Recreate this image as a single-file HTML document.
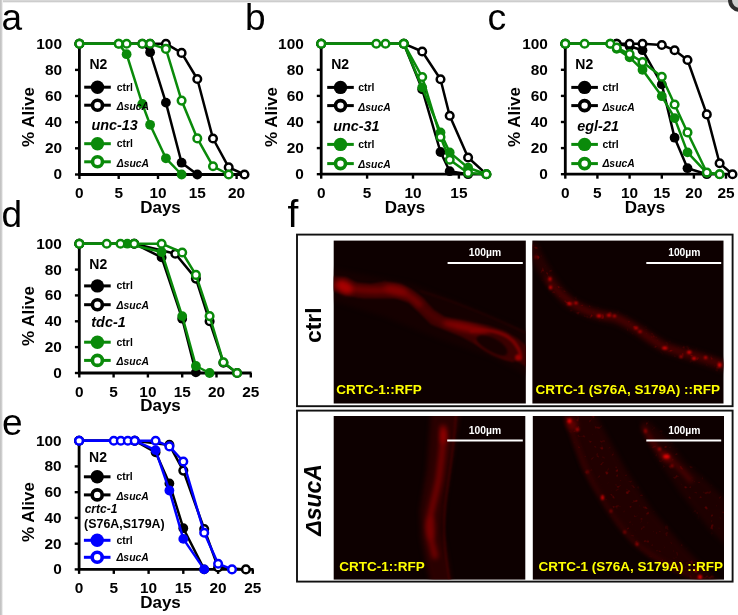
<!DOCTYPE html>
<html lang="en"><head><meta charset="utf-8"><title>Figure</title>
<style>
html,body{margin:0;padding:0;background:#fff;}
body{width:738px;height:615px;overflow:hidden;position:relative;}
svg{display:block;position:absolute;left:0;top:0;filter:blur(0.4px);}
svg text{font-family:'Liberation Sans', sans-serif;fill:#000;}
</style></head><body>
<svg width="738" height="615" viewBox="0 0 738 615">
<defs>
<linearGradient id="gt" x1="0" y1="0" x2="0" y2="1"><stop offset="0" stop-color="#dcdcdc"/><stop offset="0.6" stop-color="#cacaca"/><stop offset="1" stop-color="#fff"/></linearGradient>
<linearGradient id="gl" x1="0" y1="0" x2="1" y2="0"><stop offset="0" stop-color="#bdbdbd"/><stop offset="0.6" stop-color="#d2d2d2"/><stop offset="1" stop-color="#fff"/></linearGradient>
<filter id="b1" color-interpolation-filters="sRGB" filterUnits="userSpaceOnUse" x="280" y="220" width="470" height="380"><feGaussianBlur stdDeviation="1.2"/></filter>
<filter id="b2" color-interpolation-filters="sRGB" filterUnits="userSpaceOnUse" x="280" y="220" width="470" height="380"><feGaussianBlur stdDeviation="2.5"/></filter>
<filter id="b4" color-interpolation-filters="sRGB" filterUnits="userSpaceOnUse" x="280" y="220" width="470" height="380"><feGaussianBlur stdDeviation="4"/></filter>
<filter id="sp" color-interpolation-filters="sRGB" filterUnits="userSpaceOnUse" x="280" y="220" width="470" height="380">
<feGaussianBlur in="SourceGraphic" stdDeviation="2" result="sh"/>
<feTurbulence type="fractalNoise" baseFrequency="0.2" numOctaves="2" seed="11" result="n"/>
<feColorMatrix in="n" type="matrix" values="0 0 0 0 0.8  0 0 0 0 0  0 0 0 0 0  5 0 0 0 -3.25" result="nr"/>
<feGaussianBlur in="nr" stdDeviation="0.7" result="nb"/>
<feComposite in="nb" in2="sh" operator="in"/>
</filter>
<clipPath id="c1"><rect x="333.7" y="240.6" width="192.1" height="162.9"/></clipPath>
<clipPath id="c2"><rect x="532.4" y="240.6" width="191.1" height="162.9"/></clipPath>
<clipPath id="c3"><rect x="333.7" y="416" width="191.6" height="163.6"/></clipPath>
<clipPath id="c4"><rect x="532.8" y="416" width="191.2" height="163.6"/></clipPath>
</defs>
<rect x="0" y="0" width="738" height="615" fill="#fff"/>
<rect x="0" y="0" width="738" height="2.9" fill="url(#gt)"/>
<rect x="0" y="0" width="3" height="615" fill="url(#gl)"/>
<circle cx="740" cy="0" r="10" fill="#cfcfcf" stroke="#2e2e2e" stroke-width="4"/>

<text x="1.5" y="29.8" font-size="37">a</text>
<text x="245" y="30" font-size="37">b</text>
<text x="487.6" y="30.2" font-size="37.5">c</text>
<text x="1.5" y="227.3" font-size="37">d</text>
<text x="2" y="434.5" font-size="37">e</text>
<text x="287.6" y="226.8" font-size="39">f</text>
<path d="M79.4,43.7 V174.5 H246.0" fill="none" stroke="#000" stroke-width="2.8" stroke-linejoin="miter"/>
<line x1="75.0" y1="174.5" x2="79.4" y2="174.5" stroke="#000" stroke-width="2.4"/>
<text x="62.0" y="179.4" text-anchor="end" font-size="15.4" font-weight="bold">0</text>
<line x1="75.0" y1="148.3" x2="79.4" y2="148.3" stroke="#000" stroke-width="2.4"/>
<text x="62.0" y="153.2" text-anchor="end" font-size="15.4" font-weight="bold">20</text>
<line x1="75.0" y1="122.2" x2="79.4" y2="122.2" stroke="#000" stroke-width="2.4"/>
<text x="62.0" y="127.1" text-anchor="end" font-size="15.4" font-weight="bold">40</text>
<line x1="75.0" y1="96.0" x2="79.4" y2="96.0" stroke="#000" stroke-width="2.4"/>
<text x="62.0" y="100.9" text-anchor="end" font-size="15.4" font-weight="bold">60</text>
<line x1="75.0" y1="69.9" x2="79.4" y2="69.9" stroke="#000" stroke-width="2.4"/>
<text x="62.0" y="74.8" text-anchor="end" font-size="15.4" font-weight="bold">80</text>
<text x="62.0" y="48.6" text-anchor="end" font-size="15.4" font-weight="bold">100</text>
<line x1="79.4" y1="174.5" x2="79.4" y2="179.0" stroke="#000" stroke-width="2.4"/>
<text x="79.4" y="198.0" text-anchor="middle" font-size="15.4" font-weight="bold">0</text>
<line x1="118.7" y1="174.5" x2="118.7" y2="179.0" stroke="#000" stroke-width="2.4"/>
<text x="118.7" y="198.0" text-anchor="middle" font-size="15.4" font-weight="bold">5</text>
<line x1="158.0" y1="174.5" x2="158.0" y2="179.0" stroke="#000" stroke-width="2.4"/>
<text x="158.0" y="198.0" text-anchor="middle" font-size="15.4" font-weight="bold">10</text>
<line x1="197.3" y1="174.5" x2="197.3" y2="179.0" stroke="#000" stroke-width="2.4"/>
<text x="197.3" y="198.0" text-anchor="middle" font-size="15.4" font-weight="bold">15</text>
<line x1="236.6" y1="174.5" x2="236.6" y2="179.0" stroke="#000" stroke-width="2.4"/>
<text x="236.6" y="198.0" text-anchor="middle" font-size="15.4" font-weight="bold">20</text>
<text x="160.5" y="212.5" text-anchor="middle" font-size="17" font-weight="bold">Days</text>
<text transform="translate(33.5,117.0) rotate(-90)" text-anchor="middle" font-size="17" font-weight="bold">% Alive</text>
<path d="M79.4,43.7 L142.3,43.7 L150.1,52.2 L165.9,102.6 L181.6,162.7 L197.3,174.5" fill="none" stroke="#000" stroke-width="2.5" stroke-linejoin="round"/>
<circle cx="79.4" cy="43.7" r="4.9" fill="#000"/>
<circle cx="142.3" cy="43.7" r="4.9" fill="#000"/>
<circle cx="150.1" cy="52.2" r="4.9" fill="#000"/>
<circle cx="165.9" cy="102.6" r="4.9" fill="#000"/>
<circle cx="181.6" cy="162.7" r="4.9" fill="#000"/>
<circle cx="197.3" cy="174.5" r="4.9" fill="#000"/>
<path d="M79.4,43.7 L150.1,43.7 L165.9,43.7 L181.6,52.9 L197.3,79.0 L213.0,138.5 L228.7,167.3 L244.5,174.5" fill="none" stroke="#000" stroke-width="2.5" stroke-linejoin="round"/>
<circle cx="79.4" cy="43.7" r="3.8" fill="#fff" stroke="#000" stroke-width="2.5"/>
<circle cx="150.1" cy="43.7" r="3.8" fill="#fff" stroke="#000" stroke-width="2.5"/>
<circle cx="165.9" cy="43.7" r="3.8" fill="#fff" stroke="#000" stroke-width="2.5"/>
<circle cx="181.6" cy="52.9" r="3.8" fill="#fff" stroke="#000" stroke-width="2.5"/>
<circle cx="197.3" cy="79.0" r="3.8" fill="#fff" stroke="#000" stroke-width="2.5"/>
<circle cx="213.0" cy="138.5" r="3.8" fill="#fff" stroke="#000" stroke-width="2.5"/>
<circle cx="228.7" cy="167.3" r="3.8" fill="#fff" stroke="#000" stroke-width="2.5"/>
<circle cx="244.5" cy="174.5" r="3.8" fill="#fff" stroke="#000" stroke-width="2.5"/>
<path d="M79.4,43.7 L118.7,43.7 L126.6,54.2 L142.3,103.9 L150.1,124.8 L165.9,158.3 L181.6,174.5" fill="none" stroke="#0a8a0a" stroke-width="2.5" stroke-linejoin="round"/>
<circle cx="79.4" cy="43.7" r="4.9" fill="#0a8a0a"/>
<circle cx="118.7" cy="43.7" r="4.9" fill="#0a8a0a"/>
<circle cx="126.6" cy="54.2" r="4.9" fill="#0a8a0a"/>
<circle cx="142.3" cy="103.9" r="4.9" fill="#0a8a0a"/>
<circle cx="150.1" cy="124.8" r="4.9" fill="#0a8a0a"/>
<circle cx="165.9" cy="158.3" r="4.9" fill="#0a8a0a"/>
<circle cx="181.6" cy="174.5" r="4.9" fill="#0a8a0a"/>
<path d="M79.4,43.7 L118.7,43.7 L126.6,43.7 L142.3,43.7 L150.1,43.7 L165.9,48.9 L181.6,100.6 L197.3,138.4 L213.0,166.3 L228.7,174.5" fill="none" stroke="#0a8a0a" stroke-width="2.5" stroke-linejoin="round"/>
<circle cx="79.4" cy="43.7" r="3.8" fill="#fff" stroke="#0a8a0a" stroke-width="2.5"/>
<circle cx="118.7" cy="43.7" r="3.8" fill="#fff" stroke="#0a8a0a" stroke-width="2.5"/>
<circle cx="126.6" cy="43.7" r="3.8" fill="#fff" stroke="#0a8a0a" stroke-width="2.5"/>
<circle cx="142.3" cy="43.7" r="3.8" fill="#fff" stroke="#0a8a0a" stroke-width="2.5"/>
<circle cx="150.1" cy="43.7" r="3.8" fill="#fff" stroke="#0a8a0a" stroke-width="2.5"/>
<circle cx="165.9" cy="48.9" r="3.8" fill="#fff" stroke="#0a8a0a" stroke-width="2.5"/>
<circle cx="181.6" cy="100.6" r="3.8" fill="#fff" stroke="#0a8a0a" stroke-width="2.5"/>
<circle cx="197.3" cy="138.4" r="3.8" fill="#fff" stroke="#0a8a0a" stroke-width="2.5"/>
<circle cx="213.0" cy="166.3" r="3.8" fill="#fff" stroke="#0a8a0a" stroke-width="2.5"/>
<circle cx="228.7" cy="174.5" r="3.8" fill="#fff" stroke="#0a8a0a" stroke-width="2.5"/>
<text x="89.4" y="69.0" font-size="14" font-weight="bold">N2</text>
<line x1="84.2" y1="87.2" x2="110.8" y2="87.2" stroke="#000" stroke-width="3"/>
<circle cx="97.5" cy="87.2" r="6.7" fill="#000"/>
<text x="116.7" y="90.6" font-size="10.4" font-weight="bold">ctrl</text>
<line x1="84.2" y1="105.2" x2="110.8" y2="105.2" stroke="#000" stroke-width="3"/>
<circle cx="97.5" cy="105.2" r="5" fill="#fff" stroke="#000" stroke-width="3.6"/>
<text x="116.7" y="110.3" font-size="10.4" font-weight="bold" font-style="italic">ΔsucA</text>
<text x="91.4" y="130.0" font-size="14.4" font-weight="bold" font-style="italic">unc-13</text>
<line x1="84.2" y1="143.7" x2="110.8" y2="143.7" stroke="#0a8a0a" stroke-width="3"/>
<circle cx="97.5" cy="143.7" r="6.7" fill="#0a8a0a"/>
<text x="116.7" y="147.1" font-size="10.4" font-weight="bold">ctrl</text>
<line x1="84.2" y1="161.8" x2="110.8" y2="161.8" stroke="#0a8a0a" stroke-width="3"/>
<circle cx="97.5" cy="161.8" r="5" fill="#fff" stroke="#0a8a0a" stroke-width="3.6"/>
<text x="116.7" y="167.0" font-size="10.4" font-weight="bold" font-style="italic">ΔsucA</text>
<path d="M321.2,43.7 V174.2 H488.3" fill="none" stroke="#000" stroke-width="2.8" stroke-linejoin="miter"/>
<line x1="316.8" y1="174.2" x2="321.2" y2="174.2" stroke="#000" stroke-width="2.4"/>
<text x="303.8" y="179.1" text-anchor="end" font-size="15.4" font-weight="bold">0</text>
<line x1="316.8" y1="148.1" x2="321.2" y2="148.1" stroke="#000" stroke-width="2.4"/>
<text x="303.8" y="153.0" text-anchor="end" font-size="15.4" font-weight="bold">20</text>
<line x1="316.8" y1="122.0" x2="321.2" y2="122.0" stroke="#000" stroke-width="2.4"/>
<text x="303.8" y="126.9" text-anchor="end" font-size="15.4" font-weight="bold">40</text>
<line x1="316.8" y1="95.9" x2="321.2" y2="95.9" stroke="#000" stroke-width="2.4"/>
<text x="303.8" y="100.8" text-anchor="end" font-size="15.4" font-weight="bold">60</text>
<line x1="316.8" y1="69.8" x2="321.2" y2="69.8" stroke="#000" stroke-width="2.4"/>
<text x="303.8" y="74.7" text-anchor="end" font-size="15.4" font-weight="bold">80</text>
<text x="303.8" y="48.6" text-anchor="end" font-size="15.4" font-weight="bold">100</text>
<line x1="321.2" y1="174.2" x2="321.2" y2="178.7" stroke="#000" stroke-width="2.4"/>
<text x="321.2" y="197.7" text-anchor="middle" font-size="15.4" font-weight="bold">0</text>
<line x1="367.1" y1="174.2" x2="367.1" y2="178.7" stroke="#000" stroke-width="2.4"/>
<text x="367.1" y="197.7" text-anchor="middle" font-size="15.4" font-weight="bold">5</text>
<line x1="413.0" y1="174.2" x2="413.0" y2="178.7" stroke="#000" stroke-width="2.4"/>
<text x="413.0" y="197.7" text-anchor="middle" font-size="15.4" font-weight="bold">10</text>
<line x1="458.9" y1="174.2" x2="458.9" y2="178.7" stroke="#000" stroke-width="2.4"/>
<text x="458.9" y="197.7" text-anchor="middle" font-size="15.4" font-weight="bold">15</text>
<text x="405.0" y="212.5" text-anchor="middle" font-size="17" font-weight="bold">Days</text>
<text transform="translate(276.5,117.0) rotate(-90)" text-anchor="middle" font-size="17" font-weight="bold">% Alive</text>
<path d="M321.2,43.7 L403.8,43.7 L422.2,89.4 L440.5,152.0 L449.7,171.2 L468.1,174.2" fill="none" stroke="#000" stroke-width="2.5" stroke-linejoin="round"/>
<circle cx="321.2" cy="43.7" r="4.9" fill="#000"/>
<circle cx="403.8" cy="43.7" r="4.9" fill="#000"/>
<circle cx="422.2" cy="89.4" r="4.9" fill="#000"/>
<circle cx="440.5" cy="152.0" r="4.9" fill="#000"/>
<circle cx="449.7" cy="171.2" r="4.9" fill="#000"/>
<circle cx="468.1" cy="174.2" r="4.9" fill="#000"/>
<path d="M321.2,43.7 L403.8,43.7 L422.2,51.5 L440.5,79.2 L449.7,115.7 L468.1,157.5 L486.4,174.2" fill="none" stroke="#000" stroke-width="2.5" stroke-linejoin="round"/>
<circle cx="321.2" cy="43.7" r="3.8" fill="#fff" stroke="#000" stroke-width="2.5"/>
<circle cx="403.8" cy="43.7" r="3.8" fill="#fff" stroke="#000" stroke-width="2.5"/>
<circle cx="422.2" cy="51.5" r="3.8" fill="#fff" stroke="#000" stroke-width="2.5"/>
<circle cx="440.5" cy="79.2" r="3.8" fill="#fff" stroke="#000" stroke-width="2.5"/>
<circle cx="449.7" cy="115.7" r="3.8" fill="#fff" stroke="#000" stroke-width="2.5"/>
<circle cx="468.1" cy="157.5" r="3.8" fill="#fff" stroke="#000" stroke-width="2.5"/>
<circle cx="486.4" cy="174.2" r="3.8" fill="#fff" stroke="#000" stroke-width="2.5"/>
<path d="M321.2,43.7 L403.8,43.7 L422.2,87.4 L440.5,132.4 L449.7,152.4 L468.1,167.7 L486.4,174.2" fill="none" stroke="#0a8a0a" stroke-width="2.5" stroke-linejoin="round"/>
<circle cx="321.2" cy="43.7" r="4.9" fill="#0a8a0a"/>
<circle cx="403.8" cy="43.7" r="4.9" fill="#0a8a0a"/>
<circle cx="422.2" cy="87.4" r="4.9" fill="#0a8a0a"/>
<circle cx="440.5" cy="132.4" r="4.9" fill="#0a8a0a"/>
<circle cx="449.7" cy="152.4" r="4.9" fill="#0a8a0a"/>
<circle cx="468.1" cy="167.7" r="4.9" fill="#0a8a0a"/>
<circle cx="486.4" cy="174.2" r="4.9" fill="#0a8a0a"/>
<path d="M321.2,43.7 L376.3,43.7 L385.5,43.7 L403.8,43.7 L422.2,77.0 L440.5,137.0 L449.7,159.8 L468.1,172.9 L486.4,174.2" fill="none" stroke="#0a8a0a" stroke-width="2.5" stroke-linejoin="round"/>
<circle cx="321.2" cy="43.7" r="3.8" fill="#fff" stroke="#0a8a0a" stroke-width="2.5"/>
<circle cx="376.3" cy="43.7" r="3.8" fill="#fff" stroke="#0a8a0a" stroke-width="2.5"/>
<circle cx="385.5" cy="43.7" r="3.8" fill="#fff" stroke="#0a8a0a" stroke-width="2.5"/>
<circle cx="403.8" cy="43.7" r="3.8" fill="#fff" stroke="#0a8a0a" stroke-width="2.5"/>
<circle cx="422.2" cy="77.0" r="3.8" fill="#fff" stroke="#0a8a0a" stroke-width="2.5"/>
<circle cx="440.5" cy="137.0" r="3.8" fill="#fff" stroke="#0a8a0a" stroke-width="2.5"/>
<circle cx="449.7" cy="159.8" r="3.8" fill="#fff" stroke="#0a8a0a" stroke-width="2.5"/>
<circle cx="468.1" cy="172.9" r="3.8" fill="#fff" stroke="#0a8a0a" stroke-width="2.5"/>
<circle cx="486.4" cy="174.2" r="3.8" fill="#fff" stroke="#0a8a0a" stroke-width="2.5"/>
<text x="331.2" y="69.0" font-size="14" font-weight="bold">N2</text>
<line x1="327.2" y1="87.4" x2="353.8" y2="87.4" stroke="#000" stroke-width="3"/>
<circle cx="340.5" cy="87.4" r="6.7" fill="#000"/>
<text x="358.3" y="90.8" font-size="10.4" font-weight="bold">ctrl</text>
<line x1="327.2" y1="105.6" x2="353.8" y2="105.6" stroke="#000" stroke-width="3"/>
<circle cx="340.5" cy="105.6" r="5" fill="#fff" stroke="#000" stroke-width="3.6"/>
<text x="358.3" y="110.6" font-size="10.4" font-weight="bold" font-style="italic">ΔsucA</text>
<text x="333.2" y="130.5" font-size="14.4" font-weight="bold" font-style="italic">unc-31</text>
<line x1="327.2" y1="144.4" x2="353.8" y2="144.4" stroke="#0a8a0a" stroke-width="3"/>
<circle cx="340.5" cy="144.4" r="6.7" fill="#0a8a0a"/>
<text x="358.3" y="147.8" font-size="10.4" font-weight="bold">ctrl</text>
<line x1="327.2" y1="163.6" x2="353.8" y2="163.6" stroke="#0a8a0a" stroke-width="3"/>
<circle cx="340.5" cy="163.6" r="5" fill="#fff" stroke="#0a8a0a" stroke-width="3.6"/>
<text x="358.3" y="167.5" font-size="10.4" font-weight="bold" font-style="italic">ΔsucA</text>
<path d="M565.3,43.7 V174.2 H733.8" fill="none" stroke="#000" stroke-width="2.8" stroke-linejoin="miter"/>
<line x1="560.9" y1="174.2" x2="565.3" y2="174.2" stroke="#000" stroke-width="2.4"/>
<text x="547.9" y="179.1" text-anchor="end" font-size="15.4" font-weight="bold">0</text>
<line x1="560.9" y1="148.1" x2="565.3" y2="148.1" stroke="#000" stroke-width="2.4"/>
<text x="547.9" y="153.0" text-anchor="end" font-size="15.4" font-weight="bold">20</text>
<line x1="560.9" y1="122.0" x2="565.3" y2="122.0" stroke="#000" stroke-width="2.4"/>
<text x="547.9" y="126.9" text-anchor="end" font-size="15.4" font-weight="bold">40</text>
<line x1="560.9" y1="95.9" x2="565.3" y2="95.9" stroke="#000" stroke-width="2.4"/>
<text x="547.9" y="100.8" text-anchor="end" font-size="15.4" font-weight="bold">60</text>
<line x1="560.9" y1="69.8" x2="565.3" y2="69.8" stroke="#000" stroke-width="2.4"/>
<text x="547.9" y="74.7" text-anchor="end" font-size="15.4" font-weight="bold">80</text>
<text x="547.9" y="48.6" text-anchor="end" font-size="15.4" font-weight="bold">100</text>
<line x1="565.3" y1="174.2" x2="565.3" y2="178.7" stroke="#000" stroke-width="2.4"/>
<text x="565.3" y="197.7" text-anchor="middle" font-size="15.4" font-weight="bold">0</text>
<line x1="597.4" y1="174.2" x2="597.4" y2="178.7" stroke="#000" stroke-width="2.4"/>
<text x="597.4" y="197.7" text-anchor="middle" font-size="15.4" font-weight="bold">5</text>
<line x1="629.6" y1="174.2" x2="629.6" y2="178.7" stroke="#000" stroke-width="2.4"/>
<text x="629.6" y="197.7" text-anchor="middle" font-size="15.4" font-weight="bold">10</text>
<line x1="661.8" y1="174.2" x2="661.8" y2="178.7" stroke="#000" stroke-width="2.4"/>
<text x="661.8" y="197.7" text-anchor="middle" font-size="15.4" font-weight="bold">15</text>
<line x1="693.9" y1="174.2" x2="693.9" y2="178.7" stroke="#000" stroke-width="2.4"/>
<text x="693.9" y="197.7" text-anchor="middle" font-size="15.4" font-weight="bold">20</text>
<line x1="726.0" y1="174.2" x2="726.0" y2="178.7" stroke="#000" stroke-width="2.4"/>
<text x="726.0" y="197.7" text-anchor="middle" font-size="15.4" font-weight="bold">25</text>
<text x="645.0" y="212.5" text-anchor="middle" font-size="17" font-weight="bold">Days</text>
<text transform="translate(520.0,117.0) rotate(-90)" text-anchor="middle" font-size="17" font-weight="bold">% Alive</text>
<path d="M565.3,43.7 L616.7,43.7 L629.6,46.3 L642.5,50.2 L661.8,84.4 L674.6,137.7 L687.5,168.2 L706.8,174.2" fill="none" stroke="#000" stroke-width="2.5" stroke-linejoin="round"/>
<circle cx="565.3" cy="43.7" r="4.9" fill="#000"/>
<circle cx="616.7" cy="43.7" r="4.9" fill="#000"/>
<circle cx="629.6" cy="46.3" r="4.9" fill="#000"/>
<circle cx="642.5" cy="50.2" r="4.9" fill="#000"/>
<circle cx="661.8" cy="84.4" r="4.9" fill="#000"/>
<circle cx="674.6" cy="137.7" r="4.9" fill="#000"/>
<circle cx="687.5" cy="168.2" r="4.9" fill="#000"/>
<circle cx="706.8" cy="174.2" r="4.9" fill="#000"/>
<path d="M565.3,43.7 L616.7,43.7 L629.6,43.7 L642.5,43.7 L661.8,45.0 L674.6,50.2 L687.5,60.0 L706.8,114.4 L719.6,163.2 L732.5,174.2" fill="none" stroke="#000" stroke-width="2.5" stroke-linejoin="round"/>
<circle cx="565.3" cy="43.7" r="3.8" fill="#fff" stroke="#000" stroke-width="2.5"/>
<circle cx="616.7" cy="43.7" r="3.8" fill="#fff" stroke="#000" stroke-width="2.5"/>
<circle cx="629.6" cy="43.7" r="3.8" fill="#fff" stroke="#000" stroke-width="2.5"/>
<circle cx="642.5" cy="43.7" r="3.8" fill="#fff" stroke="#000" stroke-width="2.5"/>
<circle cx="661.8" cy="45.0" r="3.8" fill="#fff" stroke="#000" stroke-width="2.5"/>
<circle cx="674.6" cy="50.2" r="3.8" fill="#fff" stroke="#000" stroke-width="2.5"/>
<circle cx="687.5" cy="60.0" r="3.8" fill="#fff" stroke="#000" stroke-width="2.5"/>
<circle cx="706.8" cy="114.4" r="3.8" fill="#fff" stroke="#000" stroke-width="2.5"/>
<circle cx="719.6" cy="163.2" r="3.8" fill="#fff" stroke="#000" stroke-width="2.5"/>
<circle cx="732.5" cy="174.2" r="3.8" fill="#fff" stroke="#000" stroke-width="2.5"/>
<path d="M565.3,43.7 L610.3,43.7 L616.7,48.9 L629.6,57.4 L642.5,69.8 L661.8,96.2 L674.6,118.1 L687.5,152.4 L706.8,172.9 L719.6,174.2" fill="none" stroke="#0a8a0a" stroke-width="2.5" stroke-linejoin="round"/>
<circle cx="565.3" cy="43.7" r="4.9" fill="#0a8a0a"/>
<circle cx="610.3" cy="43.7" r="4.9" fill="#0a8a0a"/>
<circle cx="616.7" cy="48.9" r="4.9" fill="#0a8a0a"/>
<circle cx="629.6" cy="57.4" r="4.9" fill="#0a8a0a"/>
<circle cx="642.5" cy="69.8" r="4.9" fill="#0a8a0a"/>
<circle cx="661.8" cy="96.2" r="4.9" fill="#0a8a0a"/>
<circle cx="674.6" cy="118.1" r="4.9" fill="#0a8a0a"/>
<circle cx="687.5" cy="152.4" r="4.9" fill="#0a8a0a"/>
<circle cx="706.8" cy="172.9" r="4.9" fill="#0a8a0a"/>
<circle cx="719.6" cy="174.2" r="4.9" fill="#0a8a0a"/>
<path d="M565.3,43.7 L584.6,43.7 L610.3,43.7 L616.7,47.6 L629.6,54.1 L642.5,62.0 L661.8,76.7 L674.6,104.5 L687.5,132.4 L706.8,172.5 L719.6,174.2" fill="none" stroke="#0a8a0a" stroke-width="2.5" stroke-linejoin="round"/>
<circle cx="565.3" cy="43.7" r="3.8" fill="#fff" stroke="#0a8a0a" stroke-width="2.5"/>
<circle cx="584.6" cy="43.7" r="3.8" fill="#fff" stroke="#0a8a0a" stroke-width="2.5"/>
<circle cx="610.3" cy="43.7" r="3.8" fill="#fff" stroke="#0a8a0a" stroke-width="2.5"/>
<circle cx="616.7" cy="47.6" r="3.8" fill="#fff" stroke="#0a8a0a" stroke-width="2.5"/>
<circle cx="629.6" cy="54.1" r="3.8" fill="#fff" stroke="#0a8a0a" stroke-width="2.5"/>
<circle cx="642.5" cy="62.0" r="3.8" fill="#fff" stroke="#0a8a0a" stroke-width="2.5"/>
<circle cx="661.8" cy="76.7" r="3.8" fill="#fff" stroke="#0a8a0a" stroke-width="2.5"/>
<circle cx="674.6" cy="104.5" r="3.8" fill="#fff" stroke="#0a8a0a" stroke-width="2.5"/>
<circle cx="687.5" cy="132.4" r="3.8" fill="#fff" stroke="#0a8a0a" stroke-width="2.5"/>
<circle cx="706.8" cy="172.5" r="3.8" fill="#fff" stroke="#0a8a0a" stroke-width="2.5"/>
<circle cx="719.6" cy="174.2" r="3.8" fill="#fff" stroke="#0a8a0a" stroke-width="2.5"/>
<text x="575.3" y="69.0" font-size="14" font-weight="bold">N2</text>
<line x1="571.3" y1="87.4" x2="597.9" y2="87.4" stroke="#000" stroke-width="3"/>
<circle cx="584.6" cy="87.4" r="6.7" fill="#000"/>
<text x="602.4" y="90.8" font-size="10.4" font-weight="bold">ctrl</text>
<line x1="571.3" y1="105.6" x2="597.9" y2="105.6" stroke="#000" stroke-width="3"/>
<circle cx="584.6" cy="105.6" r="5" fill="#fff" stroke="#000" stroke-width="3.6"/>
<text x="602.4" y="110.6" font-size="10.4" font-weight="bold" font-style="italic">ΔsucA</text>
<text x="577.3" y="130.5" font-size="14.4" font-weight="bold" font-style="italic">egl-21</text>
<line x1="571.3" y1="144.4" x2="597.9" y2="144.4" stroke="#0a8a0a" stroke-width="3"/>
<circle cx="584.6" cy="144.4" r="6.7" fill="#0a8a0a"/>
<text x="602.4" y="147.8" font-size="10.4" font-weight="bold">ctrl</text>
<line x1="571.3" y1="163.6" x2="597.9" y2="163.6" stroke="#0a8a0a" stroke-width="3"/>
<circle cx="584.6" cy="163.6" r="5" fill="#fff" stroke="#0a8a0a" stroke-width="3.6"/>
<text x="602.4" y="167.0" font-size="10.4" font-weight="bold" font-style="italic">ΔsucA</text>
<path d="M79.3,243.7 V373.0 H251.6" fill="none" stroke="#000" stroke-width="2.8" stroke-linejoin="miter"/>
<line x1="74.9" y1="373.0" x2="79.3" y2="373.0" stroke="#000" stroke-width="2.4"/>
<text x="61.9" y="377.9" text-anchor="end" font-size="15.4" font-weight="bold">0</text>
<line x1="74.9" y1="347.1" x2="79.3" y2="347.1" stroke="#000" stroke-width="2.4"/>
<text x="61.9" y="352.0" text-anchor="end" font-size="15.4" font-weight="bold">20</text>
<line x1="74.9" y1="321.3" x2="79.3" y2="321.3" stroke="#000" stroke-width="2.4"/>
<text x="61.9" y="326.2" text-anchor="end" font-size="15.4" font-weight="bold">40</text>
<line x1="74.9" y1="295.4" x2="79.3" y2="295.4" stroke="#000" stroke-width="2.4"/>
<text x="61.9" y="300.3" text-anchor="end" font-size="15.4" font-weight="bold">60</text>
<line x1="74.9" y1="269.6" x2="79.3" y2="269.6" stroke="#000" stroke-width="2.4"/>
<text x="61.9" y="274.5" text-anchor="end" font-size="15.4" font-weight="bold">80</text>
<text x="61.9" y="248.6" text-anchor="end" font-size="15.4" font-weight="bold">100</text>
<line x1="79.3" y1="373.0" x2="79.3" y2="377.5" stroke="#000" stroke-width="2.4"/>
<text x="79.3" y="396.5" text-anchor="middle" font-size="15.4" font-weight="bold">0</text>
<line x1="113.6" y1="373.0" x2="113.6" y2="377.5" stroke="#000" stroke-width="2.4"/>
<text x="113.6" y="396.5" text-anchor="middle" font-size="15.4" font-weight="bold">5</text>
<line x1="147.9" y1="373.0" x2="147.9" y2="377.5" stroke="#000" stroke-width="2.4"/>
<text x="147.9" y="396.5" text-anchor="middle" font-size="15.4" font-weight="bold">10</text>
<line x1="182.2" y1="373.0" x2="182.2" y2="377.5" stroke="#000" stroke-width="2.4"/>
<text x="182.2" y="396.5" text-anchor="middle" font-size="15.4" font-weight="bold">15</text>
<line x1="216.5" y1="373.0" x2="216.5" y2="377.5" stroke="#000" stroke-width="2.4"/>
<text x="216.5" y="396.5" text-anchor="middle" font-size="15.4" font-weight="bold">20</text>
<line x1="250.8" y1="373.0" x2="250.8" y2="377.5" stroke="#000" stroke-width="2.4"/>
<text x="250.8" y="396.5" text-anchor="middle" font-size="15.4" font-weight="bold">25</text>
<text x="160.5" y="411.0" text-anchor="middle" font-size="17" font-weight="bold">Days</text>
<text transform="translate(33.5,316.0) rotate(-90)" text-anchor="middle" font-size="17" font-weight="bold">% Alive</text>
<path d="M79.3,243.7 L134.2,243.7 L161.6,257.4 L182.2,318.7 L195.9,372.4" fill="none" stroke="#000" stroke-width="2.5" stroke-linejoin="round"/>
<circle cx="79.3" cy="243.7" r="4.9" fill="#000"/>
<circle cx="134.2" cy="243.7" r="4.9" fill="#000"/>
<circle cx="161.6" cy="257.4" r="4.9" fill="#000"/>
<circle cx="182.2" cy="318.7" r="4.9" fill="#000"/>
<circle cx="195.9" cy="372.4" r="4.9" fill="#000"/>
<path d="M79.3,243.7 L134.2,243.7 L175.3,253.7 L195.9,278.6 L209.6,321.3 L223.4,362.7 L237.1,373.0" fill="none" stroke="#000" stroke-width="2.5" stroke-linejoin="round"/>
<circle cx="79.3" cy="243.7" r="3.8" fill="#fff" stroke="#000" stroke-width="2.5"/>
<circle cx="134.2" cy="243.7" r="3.8" fill="#fff" stroke="#000" stroke-width="2.5"/>
<circle cx="175.3" cy="253.7" r="3.8" fill="#fff" stroke="#000" stroke-width="2.5"/>
<circle cx="195.9" cy="278.6" r="3.8" fill="#fff" stroke="#000" stroke-width="2.5"/>
<circle cx="209.6" cy="321.3" r="3.8" fill="#fff" stroke="#000" stroke-width="2.5"/>
<circle cx="223.4" cy="362.7" r="3.8" fill="#fff" stroke="#000" stroke-width="2.5"/>
<circle cx="237.1" cy="373.0" r="3.8" fill="#fff" stroke="#000" stroke-width="2.5"/>
<path d="M79.3,243.7 L127.3,243.7 L161.6,252.0 L182.2,316.1 L195.9,366.0 L209.6,373.0" fill="none" stroke="#0a8a0a" stroke-width="2.5" stroke-linejoin="round"/>
<circle cx="79.3" cy="243.7" r="4.9" fill="#0a8a0a"/>
<circle cx="127.3" cy="243.7" r="4.9" fill="#0a8a0a"/>
<circle cx="161.6" cy="252.0" r="4.9" fill="#0a8a0a"/>
<circle cx="182.2" cy="316.1" r="4.9" fill="#0a8a0a"/>
<circle cx="195.9" cy="366.0" r="4.9" fill="#0a8a0a"/>
<circle cx="209.6" cy="373.0" r="4.9" fill="#0a8a0a"/>
<path d="M79.3,243.7 L106.7,243.7 L120.5,243.7 L134.2,243.7 L161.6,243.7 L182.2,252.5 L195.9,274.9 L209.6,316.1 L223.4,362.3 L237.1,373.0" fill="none" stroke="#0a8a0a" stroke-width="2.5" stroke-linejoin="round"/>
<circle cx="79.3" cy="243.7" r="3.8" fill="#fff" stroke="#0a8a0a" stroke-width="2.5"/>
<circle cx="106.7" cy="243.7" r="3.8" fill="#fff" stroke="#0a8a0a" stroke-width="2.5"/>
<circle cx="120.5" cy="243.7" r="3.8" fill="#fff" stroke="#0a8a0a" stroke-width="2.5"/>
<circle cx="134.2" cy="243.7" r="3.8" fill="#fff" stroke="#0a8a0a" stroke-width="2.5"/>
<circle cx="161.6" cy="243.7" r="3.8" fill="#fff" stroke="#0a8a0a" stroke-width="2.5"/>
<circle cx="182.2" cy="252.5" r="3.8" fill="#fff" stroke="#0a8a0a" stroke-width="2.5"/>
<circle cx="195.9" cy="274.9" r="3.8" fill="#fff" stroke="#0a8a0a" stroke-width="2.5"/>
<circle cx="209.6" cy="316.1" r="3.8" fill="#fff" stroke="#0a8a0a" stroke-width="2.5"/>
<circle cx="223.4" cy="362.3" r="3.8" fill="#fff" stroke="#0a8a0a" stroke-width="2.5"/>
<circle cx="237.1" cy="373.0" r="3.8" fill="#fff" stroke="#0a8a0a" stroke-width="2.5"/>
<text x="89.3" y="268.9" font-size="14" font-weight="bold">N2</text>
<line x1="84.1" y1="285.9" x2="110.7" y2="285.9" stroke="#000" stroke-width="3"/>
<circle cx="97.4" cy="285.9" r="6.7" fill="#000"/>
<text x="116.6" y="289.3" font-size="10.4" font-weight="bold">ctrl</text>
<line x1="84.1" y1="304.7" x2="110.7" y2="304.7" stroke="#000" stroke-width="3"/>
<circle cx="97.4" cy="304.7" r="5" fill="#fff" stroke="#000" stroke-width="3.6"/>
<text x="116.6" y="309.3" font-size="10.4" font-weight="bold" font-style="italic">ΔsucA</text>
<text x="91.3" y="327.3" font-size="14.4" font-weight="bold" font-style="italic">tdc-1</text>
<line x1="84.1" y1="342.2" x2="110.7" y2="342.2" stroke="#0a8a0a" stroke-width="3"/>
<circle cx="97.4" cy="342.2" r="6.7" fill="#0a8a0a"/>
<text x="116.6" y="345.6" font-size="10.4" font-weight="bold">ctrl</text>
<line x1="84.1" y1="360.4" x2="110.7" y2="360.4" stroke="#0a8a0a" stroke-width="3"/>
<circle cx="97.4" cy="360.4" r="5" fill="#fff" stroke="#0a8a0a" stroke-width="3.6"/>
<text x="116.6" y="365.0" font-size="10.4" font-weight="bold" font-style="italic">ΔsucA</text>
<path d="M79.1,440.7 V569.4 H253.5" fill="none" stroke="#000" stroke-width="2.8" stroke-linejoin="miter"/>
<line x1="74.7" y1="569.4" x2="79.1" y2="569.4" stroke="#000" stroke-width="2.4"/>
<text x="61.7" y="574.3" text-anchor="end" font-size="15.4" font-weight="bold">0</text>
<line x1="74.7" y1="543.7" x2="79.1" y2="543.7" stroke="#000" stroke-width="2.4"/>
<text x="61.7" y="548.6" text-anchor="end" font-size="15.4" font-weight="bold">20</text>
<line x1="74.7" y1="517.9" x2="79.1" y2="517.9" stroke="#000" stroke-width="2.4"/>
<text x="61.7" y="522.8" text-anchor="end" font-size="15.4" font-weight="bold">40</text>
<line x1="74.7" y1="492.2" x2="79.1" y2="492.2" stroke="#000" stroke-width="2.4"/>
<text x="61.7" y="497.1" text-anchor="end" font-size="15.4" font-weight="bold">60</text>
<line x1="74.7" y1="466.4" x2="79.1" y2="466.4" stroke="#000" stroke-width="2.4"/>
<text x="61.7" y="471.3" text-anchor="end" font-size="15.4" font-weight="bold">80</text>
<text x="61.7" y="445.6" text-anchor="end" font-size="15.4" font-weight="bold">100</text>
<line x1="79.1" y1="569.4" x2="79.1" y2="573.9" stroke="#000" stroke-width="2.4"/>
<text x="79.1" y="592.9" text-anchor="middle" font-size="15.4" font-weight="bold">0</text>
<line x1="113.8" y1="569.4" x2="113.8" y2="573.9" stroke="#000" stroke-width="2.4"/>
<text x="113.8" y="592.9" text-anchor="middle" font-size="15.4" font-weight="bold">5</text>
<line x1="148.6" y1="569.4" x2="148.6" y2="573.9" stroke="#000" stroke-width="2.4"/>
<text x="148.6" y="592.9" text-anchor="middle" font-size="15.4" font-weight="bold">10</text>
<line x1="183.3" y1="569.4" x2="183.3" y2="573.9" stroke="#000" stroke-width="2.4"/>
<text x="183.3" y="592.9" text-anchor="middle" font-size="15.4" font-weight="bold">15</text>
<line x1="218.1" y1="569.4" x2="218.1" y2="573.9" stroke="#000" stroke-width="2.4"/>
<text x="218.1" y="592.9" text-anchor="middle" font-size="15.4" font-weight="bold">20</text>
<line x1="252.8" y1="569.4" x2="252.8" y2="573.9" stroke="#000" stroke-width="2.4"/>
<text x="252.8" y="592.9" text-anchor="middle" font-size="15.4" font-weight="bold">25</text>
<text x="160.5" y="608.0" text-anchor="middle" font-size="17" font-weight="bold">Days</text>
<text transform="translate(33.5,512.0) rotate(-90)" text-anchor="middle" font-size="17" font-weight="bold">% Alive</text>
<path d="M79.1,440.7 L134.7,440.7 L155.6,452.3 L169.4,483.4 L183.3,528.2 L204.2,569.4" fill="none" stroke="#000" stroke-width="2.5" stroke-linejoin="round"/>
<circle cx="79.1" cy="440.7" r="4.9" fill="#000"/>
<circle cx="134.7" cy="440.7" r="4.9" fill="#000"/>
<circle cx="155.6" cy="452.3" r="4.9" fill="#000"/>
<circle cx="169.4" cy="483.4" r="4.9" fill="#000"/>
<circle cx="183.3" cy="528.2" r="4.9" fill="#000"/>
<circle cx="204.2" cy="569.4" r="4.9" fill="#000"/>
<path d="M79.1,440.7 L134.7,440.7 L169.4,444.9 L183.3,470.6 L204.2,529.0 L218.1,567.5 L245.9,569.4" fill="none" stroke="#000" stroke-width="2.5" stroke-linejoin="round"/>
<circle cx="79.1" cy="440.7" r="3.8" fill="#fff" stroke="#000" stroke-width="2.5"/>
<circle cx="134.7" cy="440.7" r="3.8" fill="#fff" stroke="#000" stroke-width="2.5"/>
<circle cx="169.4" cy="444.9" r="3.8" fill="#fff" stroke="#000" stroke-width="2.5"/>
<circle cx="183.3" cy="470.6" r="3.8" fill="#fff" stroke="#000" stroke-width="2.5"/>
<circle cx="204.2" cy="529.0" r="3.8" fill="#fff" stroke="#000" stroke-width="2.5"/>
<circle cx="218.1" cy="567.5" r="3.8" fill="#fff" stroke="#000" stroke-width="2.5"/>
<circle cx="245.9" cy="569.4" r="3.8" fill="#fff" stroke="#000" stroke-width="2.5"/>
<path d="M79.1,440.7 L134.7,440.7 L155.6,450.1 L169.4,490.5 L183.3,538.9 L204.2,569.4" fill="none" stroke="#0000ff" stroke-width="2.5" stroke-linejoin="round"/>
<circle cx="79.1" cy="440.7" r="4.9" fill="#0000ff"/>
<circle cx="134.7" cy="440.7" r="4.9" fill="#0000ff"/>
<circle cx="155.6" cy="450.1" r="4.9" fill="#0000ff"/>
<circle cx="169.4" cy="490.5" r="4.9" fill="#0000ff"/>
<circle cx="183.3" cy="538.9" r="4.9" fill="#0000ff"/>
<circle cx="204.2" cy="569.4" r="4.9" fill="#0000ff"/>
<path d="M79.1,440.7 L113.8,440.7 L120.8,440.7 L127.8,440.7 L134.7,440.7 L155.6,440.7 L169.4,446.4 L183.3,461.5 L204.2,532.7 L218.1,563.7 L232.0,569.4" fill="none" stroke="#0000ff" stroke-width="2.5" stroke-linejoin="round"/>
<circle cx="79.1" cy="440.7" r="3.8" fill="#fff" stroke="#0000ff" stroke-width="2.5"/>
<circle cx="113.8" cy="440.7" r="3.8" fill="#fff" stroke="#0000ff" stroke-width="2.5"/>
<circle cx="120.8" cy="440.7" r="3.8" fill="#fff" stroke="#0000ff" stroke-width="2.5"/>
<circle cx="127.8" cy="440.7" r="3.8" fill="#fff" stroke="#0000ff" stroke-width="2.5"/>
<circle cx="134.7" cy="440.7" r="3.8" fill="#fff" stroke="#0000ff" stroke-width="2.5"/>
<circle cx="155.6" cy="440.7" r="3.8" fill="#fff" stroke="#0000ff" stroke-width="2.5"/>
<circle cx="169.4" cy="446.4" r="3.8" fill="#fff" stroke="#0000ff" stroke-width="2.5"/>
<circle cx="183.3" cy="461.5" r="3.8" fill="#fff" stroke="#0000ff" stroke-width="2.5"/>
<circle cx="204.2" cy="532.7" r="3.8" fill="#fff" stroke="#0000ff" stroke-width="2.5"/>
<circle cx="218.1" cy="563.7" r="3.8" fill="#fff" stroke="#0000ff" stroke-width="2.5"/>
<circle cx="232.0" cy="569.4" r="3.8" fill="#fff" stroke="#0000ff" stroke-width="2.5"/>
<text x="89.1" y="462.3" font-size="14" font-weight="bold">N2</text>
<line x1="83.9" y1="476.8" x2="110.5" y2="476.8" stroke="#000" stroke-width="3"/>
<circle cx="97.2" cy="476.8" r="6.7" fill="#000"/>
<text x="116.4" y="480.2" font-size="10.4" font-weight="bold">ctrl</text>
<line x1="83.9" y1="494.9" x2="110.5" y2="494.9" stroke="#000" stroke-width="3"/>
<circle cx="97.2" cy="494.9" r="5" fill="#fff" stroke="#000" stroke-width="3.6"/>
<text x="116.4" y="499.9" font-size="10.4" font-weight="bold" font-style="italic">ΔsucA</text>
<text x="84.7" y="513.0" font-size="12" font-weight="bold" font-style="italic">crtc-1</text>
<text x="84.1" y="528.3" font-size="12.4" font-weight="bold">(S76A,S179A)</text>
<line x1="83.9" y1="540.3" x2="110.5" y2="540.3" stroke="#0000ff" stroke-width="3"/>
<circle cx="97.2" cy="540.3" r="6.7" fill="#0000ff"/>
<text x="116.4" y="543.7" font-size="10.4" font-weight="bold">ctrl</text>
<line x1="83.9" y1="557.3" x2="110.5" y2="557.3" stroke="#0000ff" stroke-width="3"/>
<circle cx="97.2" cy="557.3" r="5" fill="#fff" stroke="#0000ff" stroke-width="3.6"/>
<text x="116.4" y="561.2" font-size="10.4" font-weight="bold" font-style="italic">ΔsucA</text>
<g id="panelf">
<rect x="297" y="234.6" width="435.6" height="171.6" fill="#fff" stroke="#111" stroke-width="1.9"/>
<rect x="297" y="410.6" width="435.6" height="171" fill="#fff" stroke="#111" stroke-width="1.9"/>
<rect x="333.7" y="240.6" width="192.1" height="162.9" fill="#0d0000"/>
<rect x="532.4" y="240.6" width="191.1" height="162.9" fill="#0d0000"/>
<rect x="333.7" y="416" width="191.6" height="163.6" fill="#0d0000"/>
<rect x="532.8" y="416" width="191.2" height="163.6" fill="#0d0000"/>

<g clip-path="url(#c1)">
<path d="M330,268 L412,284 L467,306 L530,333 L530,377 L494,358 L439,339 L385,317 L330,300 Z" fill="#1c0000" filter="url(#b2)" opacity="0.6"/>
<path d="M330,276 L346.4,277.3 L357.3,282.7 L371,284 L384.6,281.3 L401,284 L412,289.5 L422.9,297.7 L433.8,310 L444.8,316.9 L458.4,320 L472,322.7 L488.5,325.4 L504.9,330.9 L518.5,339 L530,349 L530,369 L518.5,362 L504.9,359.2 L494,353.8 L477.5,345.6 L461,336.4 L444.8,329.9 L431,324.4 L420.2,313.5 L409.2,302.6 L395.6,298.5 L379.2,298.5 L362.8,298.5 L346.4,295.7 L330,290 Z" fill="#3e0000" filter="url(#b1)" opacity="0.95"/>
<path d="M336,285 C352,290 372,291 388,290 C404,291 412,297 420,305" fill="none" stroke="#780000" stroke-width="6.5" stroke-linecap="round" filter="url(#b2)" opacity="0.9"/>
<path d="M424,309 C432,317 440,321 448,324" fill="none" stroke="#560000" stroke-width="5" stroke-linecap="round" filter="url(#b2)" opacity="0.8"/>
<ellipse cx="344.5" cy="287" rx="9" ry="6" fill="#b80000" filter="url(#b2)" opacity="0.8" transform="rotate(35 344.5 287)"/>
<ellipse cx="396" cy="290" rx="12" ry="4.5" fill="#8a0000" filter="url(#b2)" opacity="0.75" transform="rotate(12 396 290)"/>
<ellipse cx="466" cy="327.5" rx="24" ry="4.2" fill="#900000" filter="url(#b2)" opacity="0.85" transform="rotate(12 466 327.5)"/>
<ellipse cx="492" cy="345.5" rx="17" ry="7.5" fill="#140000" filter="url(#b1)" opacity="0.92" transform="rotate(28 492 345.5)"/>
<path d="M470,331 C486,328 504,332 513,341 C519,348 522,354 520,360" fill="none" stroke="#840000" stroke-width="3.6" filter="url(#b1)" opacity="0.85"/>
<path d="M474,340 C482,350 498,358 514,361" fill="none" stroke="#4a0000" stroke-width="2.4" filter="url(#b1)" opacity="0.8"/>
<ellipse cx="518" cy="357.5" rx="3" ry="3" fill="#a80000" filter="url(#b1)" opacity="0.85"/>
<path d="M420,291 C450,300 490,316 526,333" fill="none" stroke="#3a0000" stroke-width="1.3" filter="url(#b1)" opacity="0.7"/>
</g>
<g clip-path="url(#c2)">
<path d="M530,244 C540,262 548,282 569,302 C585,312 600,316 615,318 C625,322 632,326 640,331 C650,338 658,344 665,347 C680,353 700,356 726,367" fill="none" stroke="#2a0000" stroke-width="12" filter="url(#b2)" opacity="0.9"/>
<path d="M547,278 C556,292 566,300 580,308 C595,315 605,316 615,317 C625,321 632,326 640,331 C650,338 658,344 665,347 C680,353 700,356 726,366" fill="none" stroke="#520000" stroke-width="5" filter="url(#b2)" opacity="0.9"/>
<path d="M530,244 C540,262 548,282 569,302 C585,312 600,316 615,318 C625,322 632,326 640,331 C650,338 658,344 665,347 C680,353 700,356 726,367" fill="none" stroke="#fff" stroke-width="11" filter="url(#sp)" opacity="0.4"/>
<g fill="#f00505" filter="url(#b1)" opacity="0.9">
<ellipse cx="550" cy="279" rx="1.5" ry="1.9"/><ellipse cx="550.5" cy="287.5" rx="1.5" ry="1.9"/>
<ellipse cx="569.5" cy="303.8" rx="2.6" ry="1.4"/><ellipse cx="576" cy="303" rx="1.7" ry="1.2"/>
<ellipse cx="599" cy="316" rx="2.4" ry="1.4"/><ellipse cx="609" cy="315.2" rx="2.2" ry="1.3"/><ellipse cx="614.5" cy="316" rx="1.5" ry="1.2"/>
<ellipse cx="636" cy="328" rx="1.9" ry="1.3"/><ellipse cx="640" cy="331.6" rx="1.7" ry="1.2"/>
<ellipse cx="664.8" cy="348" rx="2.8" ry="1.5"/>
<ellipse cx="689.2" cy="352.2" rx="2.2" ry="1.8"/><ellipse cx="694" cy="358.4" rx="2" ry="1.7"/>
<ellipse cx="681" cy="356.8" rx="1.5" ry="1.3"/><ellipse cx="705.6" cy="357.4" rx="1.5" ry="1.5"/>
<ellipse cx="719.6" cy="365" rx="1.9" ry="2.5"/><ellipse cx="536" cy="257" rx="1.3" ry="1.8" opacity="0.5"/>
</g>
</g>
<g clip-path="url(#c3)">
<path d="M431,412 L427,468 L420,510 L421,537 L427,568 L431,584 L452,584 L447.5,557 L442,529 L446,496 L453,454 L460,412 Z" fill="#300000" filter="url(#b2)" opacity="0.85"/>
<path d="M443,428 C444,445 441,462 439,478 C436,495 430,512 429,525 C429,537 433,546 435,556" fill="none" stroke="#7a0000" stroke-width="6.5" stroke-linecap="round" filter="url(#b2)" opacity="0.9"/>
<path d="M456,412 C455,440 450,470 446,498 C442,528 445,555 450,584" fill="none" stroke="#600000" stroke-width="1.3" filter="url(#b1)" opacity="0.8"/>
<ellipse cx="443.5" cy="436" rx="2.8" ry="7.5" fill="#a80000" filter="url(#b2)" opacity="0.75"/>
<ellipse cx="431" cy="528" rx="4" ry="12" fill="#840000" filter="url(#b2)" opacity="0.65"/>
</g>
<g clip-path="url(#c4)">
<path d="M564,412 L583,468 L603,499 L625,532 L652,557 L694,578 L700,584 L720,584 L705,568 L683,546 L652,510 L625,468 L594,412 Z" fill="#260000" filter="url(#b2)" opacity="0.85"/>
<path d="M640,420 L655,455 L682,495 L710,530 L726,545 L726,500 L705,480 L685,462 L668,440 L650,422 Z" fill="#220000" filter="url(#b2)" opacity="0.85"/>
<path d="M566,416 C575,440 582,465 592,482 C605,505 618,525 632,540 C650,557 675,570 700,580" fill="none" stroke="#4a0000" stroke-width="3.2" filter="url(#b2)" opacity="0.9"/>
<path d="M643,426 C650,440 658,452 668,458 C676,464 684,472 692,482" fill="none" stroke="#5c0000" stroke-width="4" filter="url(#b2)" opacity="0.9"/>
<path d="M564,412 L583,468 L603,499 L625,532 L652,557 L694,578 L700,584 L720,584 L705,568 L683,546 L652,510 L625,468 L594,412 Z" fill="#fff" filter="url(#sp)" opacity="0.32"/>
<path d="M640,420 L655,455 L682,495 L710,530 L726,545 L726,500 L705,480 L685,462 L668,440 L650,422 Z" fill="#fff" filter="url(#sp)" opacity="0.32"/>
<ellipse cx="572" cy="424" rx="5" ry="7" fill="#780000" filter="url(#b2)" opacity="0.7" transform="rotate(-30 572 424)"/>
<ellipse cx="666" cy="457" rx="6" ry="4" fill="#800000" filter="url(#b2)" opacity="0.7" transform="rotate(35 666 457)"/>
<g fill="#f00505" filter="url(#b1)" opacity="0.9">
<ellipse cx="569.5" cy="421" rx="2" ry="2.4"/><ellipse cx="577.5" cy="429.5" rx="1.8" ry="2" opacity="0.7"/>
<ellipse cx="587.5" cy="472" rx="1.1" ry="1.4" opacity="0.6"/>
<ellipse cx="602.5" cy="497.5" rx="1.5" ry="2.5"/><ellipse cx="611" cy="511" rx="1.2" ry="1.6" opacity="0.7"/>
<ellipse cx="624.7" cy="532" rx="1.2" ry="1.6" opacity="0.7"/><ellipse cx="637" cy="544" rx="1.4" ry="1.7" opacity="0.75"/>
<ellipse cx="666.5" cy="456.5" rx="3.2" ry="2"/><ellipse cx="659.5" cy="449" rx="1.5" ry="1.5" opacity="0.8"/>
<ellipse cx="672" cy="466" rx="1.4" ry="1.4" opacity="0.7"/><ellipse cx="645.5" cy="431" rx="1.4" ry="2.3" opacity="0.6"/>
<ellipse cx="700" cy="577" rx="2.2" ry="2.2"/><ellipse cx="696" cy="570.5" rx="1.5" ry="1.5" opacity="0.8"/>
</g>
</g>
<line x1="447.6" y1="263" x2="522.8" y2="263" stroke="#fff" stroke-width="2"/>
<text x="485" y="256.3" text-anchor="middle" font-size="10.3" font-weight="bold" style="fill:#fff">100µm</text>
<line x1="646.3" y1="263" x2="721.2" y2="263" stroke="#fff" stroke-width="2"/>
<text x="684.3" y="256.3" text-anchor="middle" font-size="10.3" font-weight="bold" style="fill:#fff">100µm</text>
<line x1="447.2" y1="440.6" x2="522.8" y2="440.6" stroke="#fff" stroke-width="2"/>
<text x="485" y="434.4" text-anchor="middle" font-size="10.3" font-weight="bold" style="fill:#fff">100µm</text>
<line x1="646.3" y1="440.6" x2="721.2" y2="440.6" stroke="#fff" stroke-width="2"/>
<text x="684.3" y="434.4" text-anchor="middle" font-size="10.3" font-weight="bold" style="fill:#fff">100µm</text>
<text x="336.2" y="394.3" font-size="13.5" font-weight="bold" style="fill:#ffff00">CRTC-1::RFP</text>
<text x="535.5" y="394.3" font-size="13.5" font-weight="bold" style="fill:#ffff00">CRTC-1 (S76A, S179A) ::RFP</text>
<text x="339.3" y="570.8" font-size="13.5" font-weight="bold" style="fill:#ffff00">CRTC-1::RFP</text>
<text x="538.6" y="570.8" font-size="13.5" font-weight="bold" style="fill:#ffff00">CRTC-1 (S76A, S179A) ::RFP</text>
<text transform="translate(321.3,325.2) rotate(-90)" text-anchor="middle" font-size="22.8" font-weight="bold">ctrl</text>
<text transform="translate(320.8,499.9) rotate(-90)" text-anchor="middle" font-size="23" font-weight="bold" font-style="italic">ΔsucA</text>
</g>
</svg>
</body></html>
